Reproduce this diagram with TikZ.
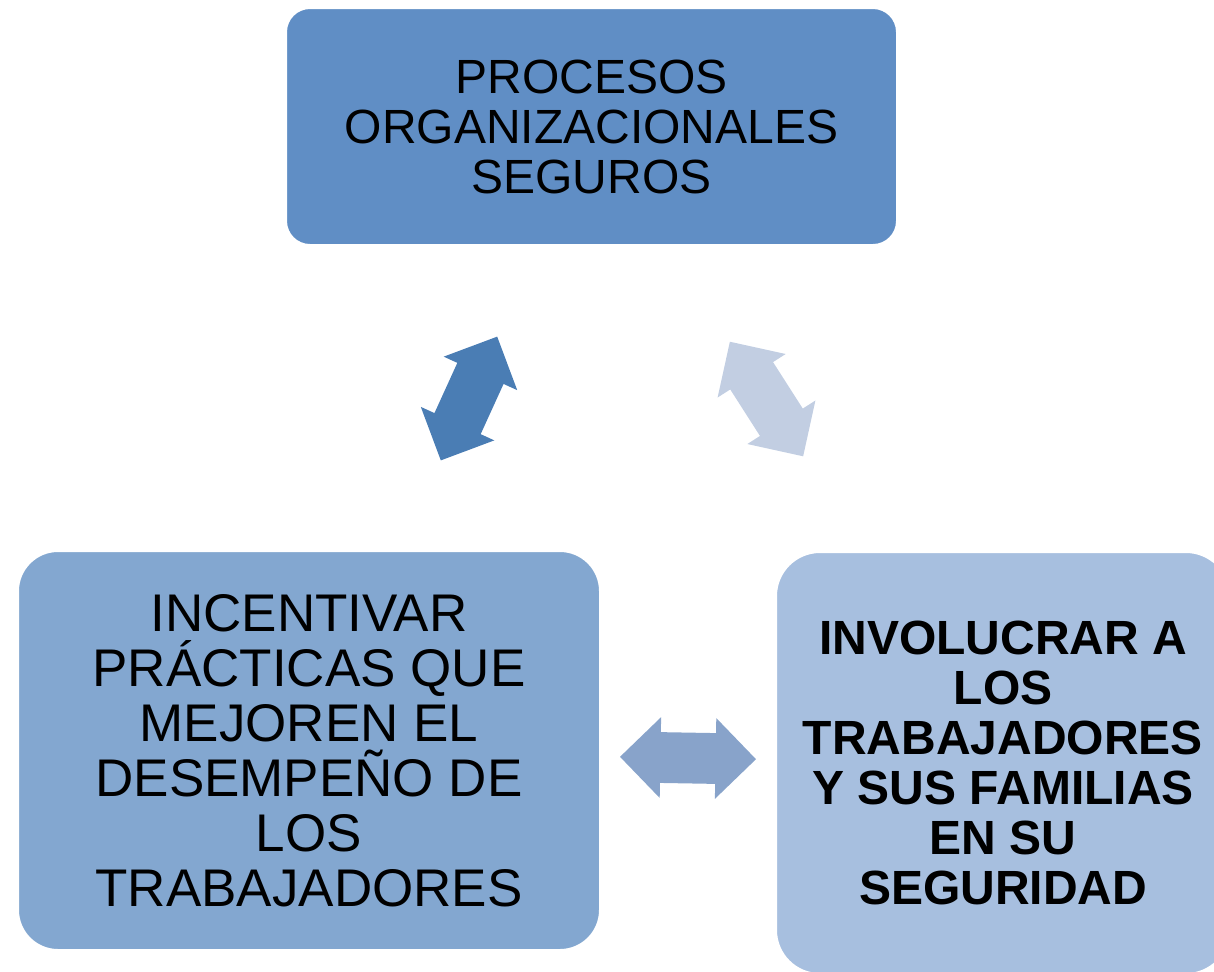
\documentclass[tikz,border=0pt]{standalone}
\usepackage{fontspec}
\setmainfont{Liberation Sans}
\usetikzlibrary{shapes.arrows}

\definecolor{topblue}{RGB}{96,142,197}
\definecolor{leftblue}{RGB}{131,167,208}
\definecolor{rightblue}{RGB}{167,191,223}
\definecolor{arrowdark}{RGB}{74,125,180}
\definecolor{arrowmid}{RGB}{136,163,202}
\definecolor{arrowpale}{RGB}{194,206,226}

\begin{document}
\begin{tikzpicture}[x=0.5pt, y=-0.5pt,
    box/.style={draw=white, line width=1pt, rounded corners=#1, inner sep=0pt, align=center},
    dblarr/.style={double arrow, double arrow head extend=7.5pt, inner xsep=0pt,
      inner ysep=12.5pt, minimum height=68pt, minimum width=40pt, fill=#1}]
  % Fix the page to the size of the slide
  \useasboundingbox (0,0) rectangle (1214,971);

  % Draw the three boxes
  \node[box=12pt, fill=topblue, minimum width=305.5pt, minimum height=118.5pt,
    font=\fontsize{24}{25}\selectfont] (proc) at (591.5,126.5)
    {PROCESOS\\ ORGANIZACIONALES\\ SEGUROS};
  \node[box=20pt, fill=leftblue, minimum width=291pt, minimum height=199.5pt,
    font=\fontsize{26.5}{27.5}\selectfont] (inc) at (309,750.5)
    {INCENTIVAR\\ PRÁCTICAS QUE\\ MEJOREN EL\\ DESEMPEÑO DE\\ LOS\\ TRABAJADORES};
  \node[box=22pt, fill=rightblue, minimum width=227pt, minimum height=211pt,
    font=\bfseries\fontsize{24}{25}\selectfont] (inv) at (1003,763)
    {INVOLUCRAR A\\ LOS\\ TRABAJADORES\\ Y SUS FAMILIAS\\ EN SU\\ SEGURIDAD};

  % Add the double arrows between the boxes
  \node[dblarr=arrowdark, rotate=65.5] (procinc) at (469,398.5) {};
  \node[dblarr=arrowpale, rotate=-57.4] (procinv) at (766.5,399) {};
  \node[dblarr=arrowmid, rotate=-1] (incinv) at (688,758) {};
\end{tikzpicture}
\end{document}
